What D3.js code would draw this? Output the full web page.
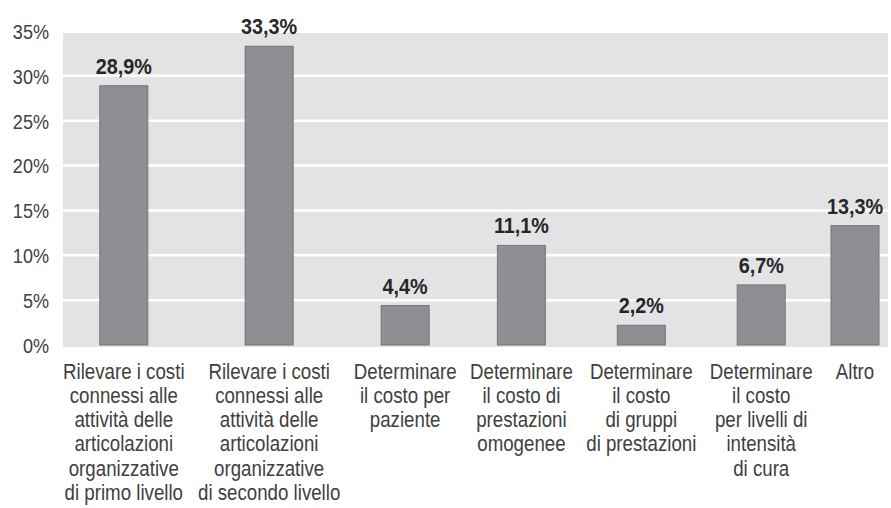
<!DOCTYPE html>
<meta charset="utf-8">
<style>
body { margin: 0; background: #fff; }
.labels text { font-family: "Liberation Sans", Arial, sans-serif; font-size: 22px; fill: #404040; }
.values text { font-family: "Liberation Sans", Arial, sans-serif; font-size: 22px; font-weight: bold; fill: #262626; }
.yaxis text { font-family: "Liberation Sans", Arial, sans-serif; font-size: 21px; fill: #404040; }
</style>
<svg width="891" height="508"></svg>
<script src="https://d3js.org/d3.v7.min.js"></script>
<script>

var categories = [
  "Rilevare i costi|connessi alle|attività delle|articolazioni|organizzative|di primo livello",
  "Rilevare i costi|connessi alle|attività delle|articolazioni|organizzative|di secondo livello",
  "Determinare|il costo per|paziente",
  "Determinare|il costo di|prestazioni|omogenee",
  "Determinare|il costo|di gruppi|di prestazioni",
  "Determinare|il costo|per livelli di|intensità|di cura",
  "Altro"
];
var values = [28.9, 33.3, 4.4, 11.1, 2.2, 6.7, 13.3];
var valueLabels = ["28,9%", "33,3%", "4,4%", "11,1%", "2,2%", "6,7%", "13,3%"];
var yTicks = [0, 5, 10, 15, 20, 25, 30, 35];

var svg = d3.select("svg"),
    plotLeft = 63, plotRight = 888,
    plotTop = 31, plotBottom = 345,
    labelsLeft = 63, labelsRight = 884, minSlot = 58,
    barWidth = 48,
    narrow = 0.85;   // the original face is a condensed grotesque

var y = d3.scaleLinear().domain([0, 35]).range([plotBottom, plotTop]);

// background
svg.append("rect")
    .attr("x", plotLeft)
    .attr("y", y(35) + 2)
    .attr("width", plotRight - plotLeft)
    .attr("height", y(0) - y(35))
    .attr("fill", "#e3e3e5");

// grid lines
svg.append("g")
  .selectAll("line")
  .data(yTicks.filter(function(d) { return d > 0 && d < 35; }))
  .enter().append("line")
    .attr("x1", plotLeft)
    .attr("x2", plotRight)
    .attr("y1", function(d) { return y(d); })
    .attr("y2", function(d) { return y(d); })
    .attr("stroke", "#fff")
    .attr("stroke-width", 2.5);

// category labels first, their widths give the layout
var labels = svg.append("g")
    .attr("class", "labels")
  .selectAll("text")
  .data(categories)
  .enter().append("text")
    .attr("text-anchor", "middle");

labels.selectAll("tspan")
  .data(function(d) { return d.split("|"); })
  .enter().append("tspan")
    .attr("x", 0)
    .attr("dy", function(d, i) { return i == 0 ? 0 : 24.3; })
    .text(function(d) { return d; });

var widths = [];
labels.each(function() {
  var w = 0;
  d3.select(this).selectAll("tspan").each(function() {
    w = Math.max(w, this.getComputedTextLength());
  });
  widths.push(Math.max(w * narrow, minSlot));
});

var gap = (labelsRight - labelsLeft - d3.sum(widths)) / (widths.length - 1);
var centers = [], pos = labelsLeft;
for (var i = 0; i < widths.length; i++) {
  centers.push(pos + widths[i] / 2);
  pos += widths[i] + gap;
}

var x = d3.scaleOrdinal().domain(categories).range(centers);

labels.attr("transform", function(d) { return "translate(" + x(d) + ",378.5) scale(" + narrow + ",1)"; });

// bars
svg.append("g")
  .selectAll("rect")
  .data(values)
  .enter().append("rect")
    .attr("x", function(d, i) { return x(categories[i]) - barWidth / 2; })
    .attr("y", function(d) { return y(d); })
    .attr("width", barWidth)
    .attr("height", function(d) { return y(0) - y(d); })
    .attr("fill", "#8e8f92")
    .attr("stroke", "#747577")
    .attr("stroke-width", 1);

// value labels
svg.append("g")
    .attr("class", "values")
  .selectAll("text")
  .data(values)
  .enter().append("text")
    .attr("text-anchor", "middle")
    .attr("transform", function(d, i) {
      return "translate(" + x(categories[i]) + "," + (y(d) - 12) + ") scale(0.9,1)";
    })
    .text(function(d, i) { return valueLabels[i]; });

// y axis
var yAxis = d3.axisLeft(y)
    .tickValues(yTicks)
    .tickSize(0)
    .tickPadding(16.3)
    .tickFormat(function(d) { return d + "%"; });

svg.append("g")
    .attr("class", "yaxis")
    .attr("transform", "translate(" + plotLeft + ",0)")
    .call(yAxis)
    .call(function(g) { g.select(".domain").remove(); })
    .selectAll("text")
    .attr("dy", "0.35em")
    .attr("transform", "scale(0.86,1)");

</script>
